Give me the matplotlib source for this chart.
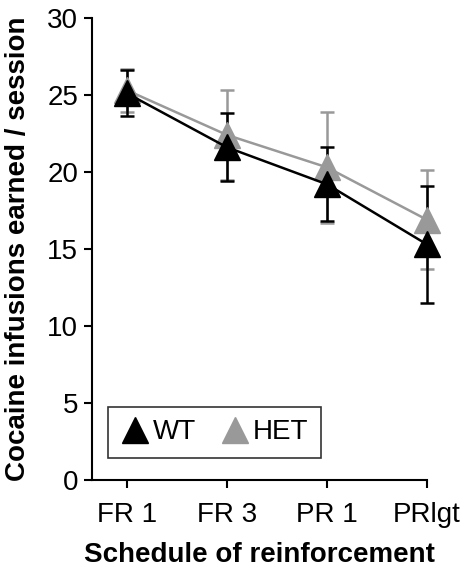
import numpy as np
import matplotlib
matplotlib.use("Agg")
import matplotlib.pyplot as plt
from matplotlib.lines import Line2D

plt.rcParams['font.family'] = ['Liberation Sans', 'DejaVu Sans']

# schedules on the x axis
schedules = ['FR 1', 'FR 3', 'PR 1', 'PRlgt']

# mean infusions and error bars
wt_mean = [25.1, 21.6, 19.2, 15.3]
wt_err = [1.5, 2.2, 2.4, 3.8]
het_mean = [25.3, 22.4, 20.3, 16.9]
het_err = [1.4, 2.9, 3.6, 3.2]

wt_color = 'black'
het_color = '#999999'

fig = plt.figure(figsize=(4.65, 5.77), dpi=100)
ax = fig.add_axes([0.198, 0.168, 0.72, 0.801])

x = np.arange(len(schedules))

# HET first so WT sits on top
ax.errorbar(x, het_mean, yerr=het_err, color=het_color, marker='^', ms=19,
            lw=1.8, elinewidth=1.8, capsize=5, capthick=1.8, clip_on=False)
ax.errorbar(x, wt_mean, yerr=wt_err, color=wt_color, marker='^', ms=19,
            lw=1.8, elinewidth=1.8, capsize=5, capthick=1.8, clip_on=False)

ax.set_xlim(-0.35, 3.0)
ax.set_ylim(0, 30)
ax.set_yticks(range(0, 31, 5))
ax.set_xticks(x)
ax.set_xticklabels(schedules)
ax.tick_params(axis='both', labelsize=20, width=1.5, length=6, direction='out')
ax.tick_params(axis='x', pad=10)
ax.tick_params(axis='y', pad=4)
for side in ['top', 'right']:
    ax.spines[side].set_visible(False)
for side in ['left', 'bottom']:
    ax.spines[side].set_linewidth(1.5)

ax.set_xlabel('Schedule of reinforcement', fontsize=20, fontweight='bold', labelpad=10)
ax.set_ylabel('Cocaine infusions earned / session', fontsize=20, fontweight='bold', labelpad=12)

handles = [Line2D([], [], ls='none', marker='^', ms=19, color=wt_color),
           Line2D([], [], ls='none', marker='^', ms=19, color=het_color)]
leg = ax.legend(handles, ['WT', 'HET'], loc='lower left', bbox_to_anchor=(0.048, 0.048),
                borderaxespad=0, ncol=2, fontsize=20, frameon=True, fancybox=False,
                handlelength=1.0, handletextpad=0.15, columnspacing=0.9, borderpad=0.45)
leg.get_frame().set_edgecolor('black')
leg.get_frame().set_linewidth(1.2)

fig.savefig('out.png', dpi=100)
